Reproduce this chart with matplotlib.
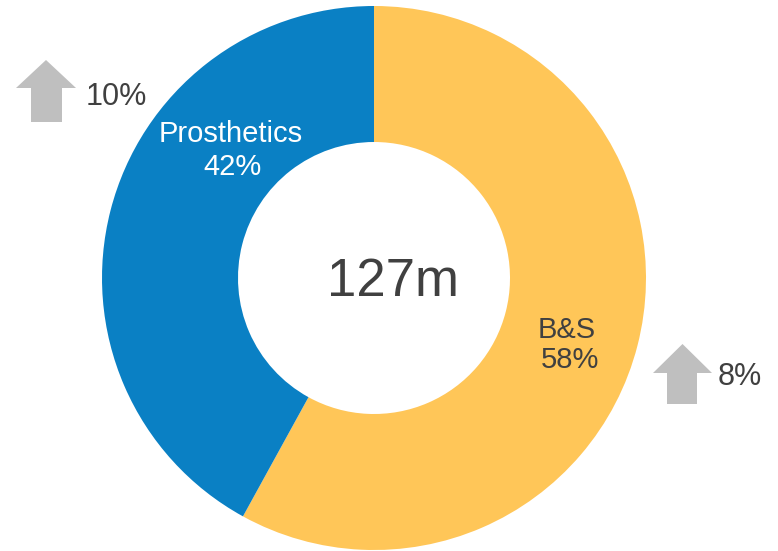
import matplotlib
matplotlib.use('Agg')
import matplotlib.pyplot as plt
from matplotlib.patches import Polygon

plt.rcParams['font.family'] = ['Liberation Sans', 'DejaVu Sans']

segments = ['B&S', 'Prosthetics']
shares = [58, 42]
growth = ['8%', '10%']
total = '127m'

colors = ['#FFC658', '#0A80C4']
label_colors = ['#404040', 'white']
grey = '#BFBFBF'
text_grey = '#404040'

W, H = 778, 551


def up_arrow(ax, x0, x1, y_top, y_bot, y_head, shaft_l, shaft_r):
    # y in pixel coords from top, converted to data (bottom-up)
    pts = [(x0, y_head), ((x0 + x1) / 2, y_top), (x1, y_head),
           (shaft_r, y_head), (shaft_r, y_bot), (shaft_l, y_bot), (shaft_l, y_head)]
    pts = [(x, H - y) for x, y in pts]
    ax.add_patch(Polygon(pts, closed=True, color=grey, lw=0))


fig = plt.figure(figsize=(W / 100, H / 100), dpi=100)
ax = fig.add_axes([0, 0, 1, 1])

cx, cy, r = 374, H - 278, 272
ax.pie(shares, colors=colors, startangle=90, counterclock=False,
       center=(cx, cy), radius=r, frame=True,
       wedgeprops=dict(width=r * 0.5, linewidth=0))
ax.set_xlim(0, W)
ax.set_ylim(0, H)
ax.set_aspect('equal')
ax.axis('off')

# segment labels
ax.text(567, H - 338, segments[0], ha='center', va='baseline',
        fontsize=21, color=label_colors[0])
ax.text(570, H - 368, f'{shares[0]}%', ha='center', va='baseline',
        fontsize=21, color=label_colors[0])
ax.text(231, H - 142, segments[1], ha='center', va='baseline',
        fontsize=21, color=label_colors[1])
ax.text(233, H - 175, f'{shares[1]}%', ha='center', va='baseline',
        fontsize=21, color=label_colors[1])

# total in the middle
ax.text(393, H - 296, total, ha='center', va='baseline', fontsize=38, color=text_grey)

# growth arrows
up_arrow(ax, 16, 76, 60, 122, 88, 31, 62)
ax.text(86, H - 105, growth[1], ha='left', va='baseline', fontsize=22, color=text_grey)
up_arrow(ax, 653, 712, 344, 404, 373, 667, 697)
ax.text(718, H - 385, growth[0], ha='left', va='baseline', fontsize=22, color=text_grey)

plt.savefig('out.png', dpi=100)
